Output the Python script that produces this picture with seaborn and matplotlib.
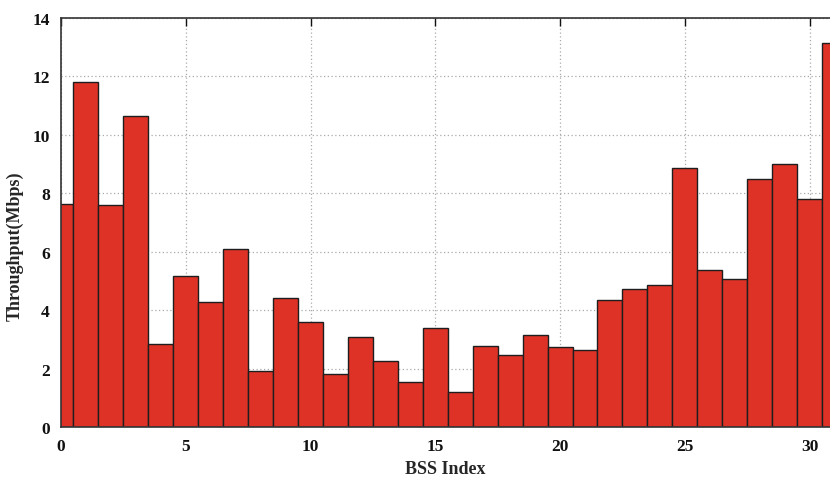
import numpy as np
import matplotlib.pyplot as plt
import pandas as pd
import seaborn as sns

bss_index = list(range(32))
throughput = [7.65, 11.81, 7.59, 10.66, 2.85, 5.16, 4.29, 6.10,
              1.92, 4.42, 3.60, 1.83, 3.08, 2.26, 1.54, 3.39,
              1.20, 2.77, 2.47, 3.15, 2.74, 2.65, 4.34, 4.74,
              4.88, 8.87, 5.38, 5.07, 8.50, 9.02, 7.81, 13.14]
x_ticks = [0, 5, 10, 15, 20, 25, 30]
y_ticks = [0, 2, 4, 6, 8, 10, 12, 14]

df = pd.DataFrame({'bss': bss_index, 'throughput': throughput})

sns.set_style('white')
plt.rcParams['font.family'] = ['Liberation Serif', 'DejaVu Serif']
plt.rcParams['font.weight'] = 'bold'

fig = plt.figure(figsize=(8.3, 4.81), dpi=100)
ax = fig.add_axes([61 / 830, 1 - 428.3 / 481, 1 - 61 / 830, (428.3 - 19) / 481])

sns.barplot(data=df, x='bss', y='throughput', native_scale=True, width=1.0,
            color='#DF3226', saturation=1, edgecolor='#1e1e1e', linewidth=1.0,
            ax=ax, zorder=2)

ax.set_xlim(0, 30.82)
ax.set_ylim(0, 14)
ax.set_xticks(x_ticks)
ax.set_yticks(y_ticks)
ax.set_xticklabels([str(t) for t in x_ticks], fontsize=12.5, fontweight='bold')
ax.set_yticklabels([str(t) for t in y_ticks], fontsize=12.5, fontweight='bold')
ax.tick_params(direction='in', length=6, width=1, top=True, right=False,
               colors='#111111', pad=8)
ax.grid(True, linestyle=(0, (1, 2)), color='#aaaaaa', linewidth=0.9, zorder=0)
ax.set_axisbelow(True)

for side in ['left', 'bottom', 'top']:
    ax.spines[side].set_color('#333333')
    ax.spines[side].set_linewidth(1.2)
ax.spines['right'].set_visible(False)

ax.set_xlabel('BSS Index', fontsize=13, fontweight='bold', labelpad=4)
ax.set_ylabel('Throughput(Mbps)', fontsize=13, fontweight='bold')
ax.yaxis.set_label_coords(-0.049, 0.444)

fig.savefig('out.png', dpi=100)
